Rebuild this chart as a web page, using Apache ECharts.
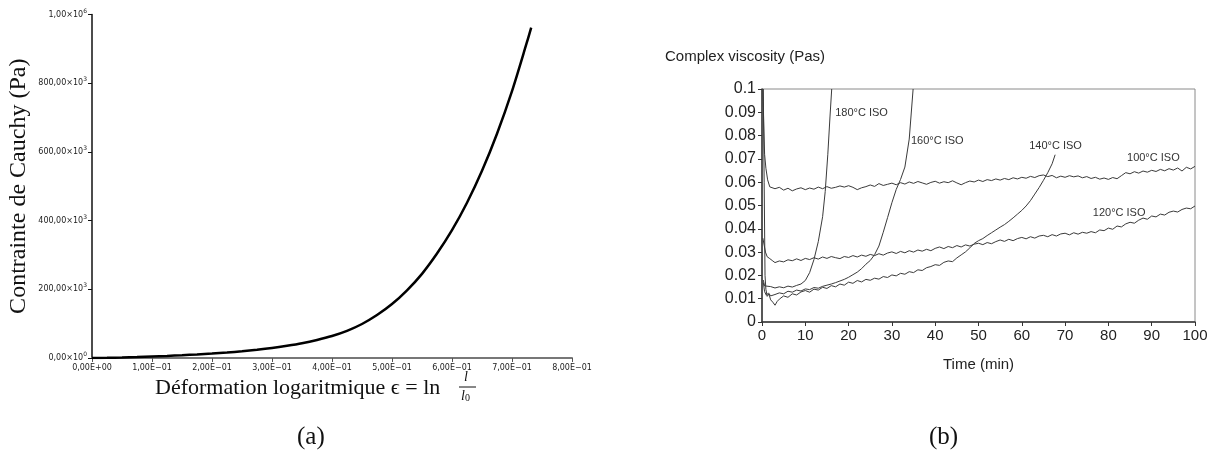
<!DOCTYPE html>
<html>
<head>
<meta charset="utf-8">
<script src="https://cdn.jsdelivr.net/npm/echarts@6/dist/echarts.min.js"></script>
<style>
  html, body { margin: 0; padding: 0; background: #fff; }
  #chart { width: 1211px; height: 463px; }
</style>
</head>
<body>
<div id="chart"></div>
<script>
// ---------- (a) Cauchy stress versus logarithmic strain ----------
const strain = [0, 0.025, 0.05, 0.075, 0.1, 0.125, 0.15, 0.175, 0.2, 0.225, 0.25, 0.275, 0.3, 0.325, 0.35,
                0.375, 0.4, 0.425, 0.45, 0.475, 0.5, 0.525, 0.55, 0.575, 0.6, 0.625, 0.65, 0.675, 0.7, 0.725, 0.732];
const cauchyStress = [0, 600, 1500, 2800, 4500, 6100, 8000, 10300, 13000, 16000, 19500, 23800, 29000, 35500, 43000,
                      52500, 64000, 79000, 99000, 125000, 157000, 197000, 245000, 304000, 372000, 452000, 545000, 653000,
                      777000, 920000, 962000];
const strainTickLabels = ['0,00E+00', '1,00E\u221201', '2,00E\u221201', '3,00E\u221201', '4,00E\u221201',
                          '5,00E\u221201', '6,00E\u221201', '7,00E\u221201', '8,00E\u221201'];
const stressTickMantissa = ['0,00', '200,00', '400,00', '600,00', '800,00', '1,00'];
const stressTickExponent = ['0', '3', '3', '3', '3', '6'];

// ---------- (b) complex viscosity versus time, isothermal runs ----------
const iso100 = [
  [0.2,0.100],[0.4,0.085],[0.6,0.072],[0.9,0.066],[1.3,0.061],[1.8,0.058],
  [2,0.0585],[3,0.0572],[4,0.0578],[5,0.0566],[6,0.0574],[7,0.0563],[8,0.0571],[9,0.0576],[10,0.0568],
  [11,0.0575],[12,0.0570],[13,0.0579],[14,0.0572],[15,0.0581],[16,0.0574],[17,0.0578],[18,0.0584],[19,0.0579],[20,0.0585],
  [21,0.0578],[22,0.0568],[23,0.0576],[24,0.0581],[25,0.0588],[26,0.0582],[27,0.0594],[28,0.0586],[29,0.0591],[30,0.0596],
  [31,0.0589],[32,0.0598],[33,0.0592],[34,0.0601],[35,0.0595],[36,0.0603],[37,0.0597],[38,0.0591],[39,0.0599],[40,0.0604],
  [41,0.0596],[42,0.0602],[43,0.0598],[44,0.0606],[45,0.0597],[46,0.0589],[47,0.0598],[48,0.0605],[49,0.0601],[50,0.0609],
  [51,0.0603],[52,0.0611],[53,0.0607],[54,0.0614],[55,0.0609],[56,0.0616],[57,0.0611],[58,0.0619],[59,0.0614],[60,0.0621],
  [61,0.0617],[62,0.0625],[63,0.0620],[64,0.0628],[65,0.0631],[66,0.0624],[67,0.0629],[68,0.0619],[69,0.0626],[70,0.0621],
  [71,0.0628],[72,0.0623],[73,0.0627],[74,0.0619],[75,0.0624],[76,0.0616],[77,0.0621],[78,0.0613],[79,0.0618],[80,0.0612],
  [81,0.0620],[82,0.0615],[83,0.0628],[84,0.0641],[85,0.0636],[86,0.0645],[87,0.0639],[88,0.0648],[89,0.0643],[90,0.0651],
  [91,0.0646],[92,0.0655],[93,0.0649],[94,0.0658],[95,0.0652],[96,0.0661],[97,0.0648],[98,0.0664],[99,0.0657],[100,0.0668]
];
const iso120 = [
  [0.2,0.036],[0.5,0.033],[0.8,0.030],[1.2,0.028],[1.8,0.0272],[2.5,0.0262],[3,0.0255],
  [4,0.0262],[5,0.0258],[6,0.0267],[7,0.0263],[8,0.0271],[9,0.0264],[10,0.0273],
  [11,0.0268],[12,0.0276],[13,0.0270],[14,0.0279],[15,0.0273],[16,0.0281],[17,0.0276],[18,0.0272],[19,0.0281],[20,0.0277],
  [21,0.0285],[22,0.0279],[23,0.0287],[24,0.0282],[25,0.0290],[26,0.0285],[27,0.0293],[28,0.0287],[29,0.0296],[30,0.0301],
  [31,0.0294],[32,0.0303],[33,0.0297],[34,0.0306],[35,0.0300],[36,0.0309],[37,0.0304],[38,0.0312],[39,0.0306],[40,0.0316],
  [41,0.0322],[42,0.0315],[43,0.0324],[44,0.0319],[45,0.0328],[46,0.0322],[47,0.0331],[48,0.0326],[49,0.0334],[50,0.0338],
  [51,0.0332],[52,0.0341],[53,0.0336],[54,0.0345],[55,0.0352],[56,0.0346],[57,0.0355],[58,0.0349],[59,0.0358],[60,0.0363],
  [61,0.0357],[62,0.0366],[63,0.0360],[64,0.0369],[65,0.0372],[66,0.0366],[67,0.0375],[68,0.0369],[69,0.0378],[70,0.0381],
  [71,0.0374],[72,0.0383],[73,0.0377],[74,0.0385],[75,0.0381],[76,0.0388],[77,0.0383],[78,0.0395],[79,0.0392],[80,0.0403],
  [81,0.0398],[82,0.0412],[83,0.0408],[84,0.0421],[85,0.0428],[86,0.0424],[87,0.0437],[88,0.0446],[89,0.0441],[90,0.0455],
  [91,0.0451],[92,0.0463],[93,0.0459],[94,0.0471],[95,0.0476],[96,0.0472],[97,0.0483],[98,0.0489],[99,0.0486],[100,0.0498]
];
const iso140 = [
  [0.3,0.100],[0.5,0.060],[0.7,0.020],[0.9,0.014],[1.2,0.011],[1.6,0.012],[2,0.0095],[2.5,0.0085],[3,0.0072],[3.5,0.0088],
  [4,0.0098],[5,0.0112],[6,0.0106],[7,0.0121],[8,0.0116],[9,0.0129],[10,0.0135],
  [11,0.0128],[12,0.0141],[13,0.0137],[14,0.0149],[15,0.0144],[16,0.0156],[17,0.0151],[18,0.0163],[19,0.0158],[20,0.0171],
  [21,0.0166],[22,0.0178],[23,0.0172],[24,0.0183],[25,0.0179],[26,0.0188],[27,0.0184],[28,0.0195],[29,0.0191],[30,0.0202],
  [31,0.0198],[32,0.0209],[33,0.0205],[34,0.0216],[35,0.0212],[36,0.0224],[37,0.0221],[38,0.0233],[39,0.0238],[40,0.0246],
  [41,0.0243],[42,0.0256],[43,0.0262],[44,0.0259],[45,0.0275],[46,0.0288],[47,0.0301],[48,0.0318],[49,0.0337],[50,0.0349],
  [51,0.0358],[52,0.0371],[53,0.0383],[54,0.0395],[55,0.0407],[56,0.0418],[57,0.0432],[58,0.0447],[59,0.0463],[60,0.0479],
  [61,0.0498],[62,0.0521],[63,0.0549],[64,0.0577],[65,0.0608],[66,0.0641],[67,0.0679],[67.7,0.0718]
];
const iso160 = [
  [0.3,0.017],[0.6,0.013],[1,0.0115],[1.5,0.0125],[2,0.0112],[3,0.0118],[4,0.0125],[5,0.0121],[6,0.0132],[7,0.0128],
  [8,0.0137],[9,0.0133],[10,0.0142],[11,0.0139],[12,0.0148],[13,0.0145],[14,0.0153],[15,0.0158],[16,0.0163],[17,0.0169],
  [18,0.0176],[19,0.0183],[20,0.0192],[21,0.0203],[22,0.0214],[23,0.0229],[24,0.0248],[25,0.0264],[26,0.0289],[27,0.0326],
  [28,0.0385],[29,0.0448],[30,0.0512],[31,0.0569],[32,0.0612],[33,0.0665],[34,0.0785],[34.9,0.1000]
];
const iso180 = [
  [0.3,0.018],[0.6,0.0155],[1,0.0148],[2,0.0152],[3,0.0146],[4,0.0151],[5,0.0147],[6,0.0154],[7,0.0150],[8,0.0157],
  [9,0.0163],[10,0.0178],[11,0.0212],[12,0.0268],[13,0.0345],[14,0.0452],[14.6,0.0560],[15.2,0.0720],[15.7,0.0880],[16.1,0.1000]
];
const isoNames = ['100°C ISO', '120°C ISO', '140°C ISO', '160°C ISO', '180°C ISO'];
const isoData = [iso100, iso120, iso140, iso160, iso180];
const isoLabelTime = [84.3, 76.4, 61.7, 34.4, 16.9];
const isoLabelViscosity = [0.0704, 0.0468, 0.0755, 0.0777, 0.0897];
const viscosityTickLabels = ['0', '0.01', '0.02', '0.03', '0.04', '0.05', '0.06', '0.07', '0.08', '0.09', '0.1'];
const timeTickLabels = ['0', '10', '20', '30', '40', '50', '60', '70', '80', '90', '100'];

const chart = echarts.init(document.getElementById('chart'), null, { renderer: 'canvas' });

const serifFont = '"Liberation Serif", "DejaVu Serif", serif';
const sansFont = '"Liberation Sans", Arial, sans-serif';

const viscositySeries = isoData.map((d, i) => ({
  type: 'line',
  name: isoNames[i],
  xAxisIndex: 1,
  yAxisIndex: 1,
  data: d,
  showSymbol: false,
  symbol: 'none',
  lineStyle: { color: '#3a3a3a', width: 1 },
  z: 3,
  markPoint: {
    symbol: 'circle',
    symbolSize: 0,
    silent: true,
    label: {
      show: true,
      position: 'right',
      distance: 0,
      formatter: isoNames[i],
      color: '#333',
      fontFamily: sansFont,
      fontSize: 11
    },
    data: [{ coord: [isoLabelTime[i], isoLabelViscosity[i]] }]
  }
}));

chart.setOption({
  animation: false,
  backgroundColor: '#fff',
  grid: [
    { left: 92, top: 14.5, width: 480, height: 343.5, containLabel: false, outerBoundsMode: 'none' },
    { left: 762, top: 89, width: 433, height: 233, containLabel: false, outerBoundsMode: 'none',
      show: true, borderColor: '#8a8a8a', borderWidth: 1, backgroundColor: 'transparent' }
  ],
  xAxis: [
    {
      type: 'value', gridIndex: 0, min: 0, max: 0.8, interval: 0.1,
      axisLine: { onZero: false, lineStyle: { color: '#777', width: 2 } },
      axisTick: { show: true, length: 4, lineStyle: { color: '#555', width: 1 } },
      axisLabel: {
        margin: 6, fontSize: 8, color: '#222', fontFamily: '"DejaVu Sans", sans-serif',
        formatter: v => strainTickLabels[Math.round(v * 10)]
      },
      splitLine: { show: false }
    },
    {
      type: 'value', gridIndex: 1, min: 0, max: 100, interval: 10,
      name: 'Time (min)', nameLocation: 'middle', nameGap: 35, nameMoveOverlap: false,
      nameTextStyle: { fontFamily: sansFont, fontSize: 15, color: '#222' },
      axisLine: { onZero: false, lineStyle: { color: '#333', width: 1.5 } },
      axisTick: { show: true, length: 4, lineStyle: { color: '#333', width: 1 } },
      axisLabel: {
        margin: 6, fontSize: 15, color: '#222', fontFamily: sansFont,
        formatter: v => timeTickLabels[Math.round(v / 10)]
      },
      splitLine: { show: false }
    }
  ],
  yAxis: [
    {
      type: 'value', gridIndex: 0, min: 0, max: 1000000, interval: 200000,
      name: 'Contrainte de Cauchy (Pa)', nameLocation: 'middle', nameRotate: 90, nameGap: 61,
      nameMoveOverlap: false,
      nameTextStyle: { fontFamily: serifFont, fontSize: 24, color: '#111' },
      axisLine: { onZero: false, lineStyle: { color: '#111', width: 1.5 } },
      axisTick: { show: true, length: 4, lineStyle: { color: '#111', width: 1 } },
      axisLabel: {
        margin: 5, color: '#222',
        formatter: v => {
          const k = Math.round(v / 200000);
          return '{m|' + stressTickMantissa[k] + '×10}{e|' + stressTickExponent[k] + '}';
        },
        rich: {
          m: { fontSize: 8, fontFamily: '"DejaVu Sans", sans-serif', color: '#222' },
          e: { fontSize: 6, fontFamily: '"DejaVu Sans", sans-serif', color: '#222',
               verticalAlign: 'bottom', padding: [0, 0, 7, 0] }
        }
      },
      splitLine: { show: false }
    },
    {
      type: 'value', gridIndex: 1, min: 0, max: 0.1, interval: 0.01,
      axisLine: { onZero: false, lineStyle: { color: '#333', width: 1.5 } },
      axisTick: { show: true, length: 4, lineStyle: { color: '#333', width: 1 } },
      axisLabel: {
        margin: 6, fontSize: 16, color: '#222', fontFamily: sansFont,
        formatter: v => viscosityTickLabels[Math.round(v * 100)]
      },
      splitLine: { show: false }
    }
  ],
  series: [
    {
      type: 'line',
      name: 'Contrainte de Cauchy',
      xAxisIndex: 0,
      yAxisIndex: 0,
      data: strain.map((e, i) => [e, cauchyStress[i]]),
      smooth: 0.3,
      showSymbol: false,
      symbol: 'none',
      lineStyle: { color: '#000', width: 2.5 },
      z: 3
    },
    ...viscositySeries
  ],
  graphic: [
    // x-axis title of (a) with the ln(l / l0) fraction
    { type: 'text', left: 155, top: 377,
      style: { text: 'Déformation logaritmique ϵ = ln', font: '22px ' + serifFont, fill: '#111' } },
    { type: 'text', left: 464, top: 370,
      style: { text: 'l', font: 'italic 14px ' + serifFont, fill: '#111' } },
    { type: 'line', shape: { x1: 459, y1: 387, x2: 476, y2: 387 },
      style: { stroke: '#111', lineWidth: 1 } },
    { type: 'text', left: 461, top: 389,
      style: {
        text: '{i|l}{s|0}',
        rich: {
          i: { font: 'italic 14px ' + serifFont, fill: '#111' },
          s: { font: '10px ' + serifFont, fill: '#111', verticalAlign: 'bottom' }
        }
      } },
    // panel captions
    { type: 'text', left: 297, top: 425,
      style: { text: '(a)', font: '25px ' + serifFont, fill: '#111' } },
    { type: 'text', left: 929, top: 425,
      style: { text: '(b)', font: '25px ' + serifFont, fill: '#111' } },
    // y-axis title of (b)
    { type: 'text', left: 665, top: 49,
      style: { text: 'Complex viscosity (Pas)', font: '15px ' + sansFont, fill: '#222' } }
  ]
});
</script>
</body>
</html>
